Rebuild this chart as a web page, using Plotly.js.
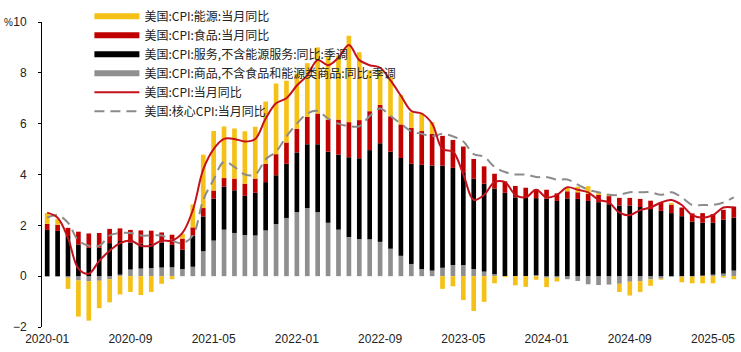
<!DOCTYPE html>
<html>
<head>
<meta charset="utf-8">
<script src="https://cdn.plot.ly/plotly-3.0.1.min.js"></script>
<style>html,body{margin:0;padding:0;background:#fff;}#chart{width:741px;height:352px;}</style>
</head>
<body>
<div id="chart"></div>
<script>
const months = ['2020-01','2020-02','2020-03','2020-04','2020-05','2020-06','2020-07','2020-08','2020-09','2020-10','2020-11','2020-12',
'2021-01','2021-02','2021-03','2021-04','2021-05','2021-06','2021-07','2021-08','2021-09','2021-10','2021-11','2021-12',
'2022-01','2022-02','2022-03','2022-04','2022-05','2022-06','2022-07','2022-08','2022-09','2022-10','2022-11','2022-12',
'2023-01','2023-02','2023-03','2023-04','2023-05','2023-06','2023-07','2023-08','2023-09','2023-10','2023-11','2023-12',
'2024-01','2024-02','2024-03','2024-04','2024-05','2024-06','2024-07','2024-08','2024-09','2024-10','2024-11','2024-12',
'2025-01','2025-02','2025-03','2025-04','2025-05','2025-06','2025-07'];

const tickLabels = ['2020-01','2020-09','2021-05','2022-01','2022-09','2023-05','2024-01','2024-09','2025-05'];

// 能源 contribution
const energy = [0.42,0.22,-0.44,-1.42,-1.55,-1.08,-0.91,-0.72,-0.62,-0.74,-0.62,-0.30,
-0.12,0.18,0.90,2.10,2.34,2.03,1.97,2.06,2.04,2.45,2.78,2.43,
2.17,2.11,2.60,2.46,2.52,3.40,2.67,1.61,1.35,1.55,1.16,0.61,
0.69,0.46,-0.50,-0.40,-0.94,-1.37,-1.01,-0.28,-0.04,-0.36,-0.42,-0.14,
-0.37,-0.15,0.17,0.22,0.30,0.08,0.09,-0.32,-0.54,-0.42,-0.25,-0.04,
0.07,-0.22,-0.26,-0.28,-0.28,-0.06,-0.12];
// 食品
const food = [0.24,0.24,0.32,0.50,0.56,0.58,0.56,0.50,0.50,0.52,0.52,0.40,
0.40,0.44,0.33,0.33,0.32,0.33,0.46,0.48,0.56,0.72,0.83,0.84,
0.93,1.08,1.21,1.26,1.38,1.38,1.50,1.53,1.51,1.39,1.32,1.42,
1.33,1.25,1.17,1.10,1.04,0.78,0.68,0.58,0.45,0.45,0.40,0.36,
0.35,0.30,0.28,0.26,0.28,0.29,0.32,0.30,0.30,0.32,0.33,0.34,
0.33,0.34,0.32,0.38,0.34,0.39,0.44];
// 服务(不含能源服务)
const services = [1.82,1.78,1.58,1.25,1.12,1.12,1.30,1.32,1.06,0.98,0.95,0.98,
0.88,0.76,1.22,1.37,1.65,1.70,1.68,1.54,1.68,1.90,1.92,2.13,
2.35,2.51,2.67,2.80,2.95,3.14,3.18,3.51,3.88,3.82,3.85,3.94,
4.10,4.13,4.02,3.82,3.62,3.55,3.46,3.37,3.28,3.10,3.08,3.03,
3.05,2.96,3.06,3.04,2.96,2.91,2.83,2.78,2.78,2.72,2.64,2.57,
2.48,2.36,2.15,2.08,2.04,2.12,2.08];
// 商品(不含食品和能源)
const goods = [-0.02,-0.02,-0.06,-0.17,-0.20,-0.18,-0.12,0.06,0.26,0.30,0.32,0.34,
0.35,0.28,0.37,0.98,1.40,1.83,1.70,1.62,1.60,1.80,2.05,2.29,
2.52,2.68,2.52,2.10,1.83,1.54,1.46,1.45,1.35,1.08,0.80,0.48,
0.28,0.22,0.33,0.44,0.44,0.28,0.18,0.08,0.00,0.00,0.00,0.04,
-0.06,-0.06,-0.12,-0.19,-0.32,-0.35,-0.33,-0.30,-0.22,-0.20,-0.13,-0.10,
-0.02,-0.02,-0.02,0.02,0.06,0.10,0.22];
// CPI 当月同比
const cpi = [2.5,2.3,1.5,0.3,0.1,0.6,1.0,1.3,1.4,1.2,1.2,1.4,
1.4,1.7,2.6,4.2,5.0,5.4,5.4,5.3,5.4,6.2,6.8,7.0,
7.5,7.9,8.5,8.3,8.6,9.1,8.5,8.3,8.2,7.7,7.1,6.5,
6.4,6.0,5.0,4.9,4.0,3.0,3.2,3.7,3.7,3.2,3.1,3.4,
3.1,3.2,3.5,3.4,3.3,3.0,2.9,2.5,2.4,2.6,2.7,2.9,
3.0,2.8,2.4,2.3,2.4,2.7,2.7];
// 核心CPI 当月同比
const core = [2.3,2.4,2.1,1.4,1.2,1.2,1.6,1.7,1.7,1.6,1.6,1.6,
1.4,1.3,1.6,3.0,3.8,4.5,4.3,4.0,4.0,4.6,4.9,5.5,
6.0,6.4,6.5,6.2,6.0,5.9,5.9,6.3,6.6,6.3,6.0,5.7,
5.6,5.5,5.6,5.5,5.3,4.8,4.7,4.3,4.1,4.0,4.0,3.9,
3.9,3.8,3.8,3.6,3.4,3.3,3.2,3.2,3.3,3.3,3.3,3.2,
3.3,3.1,2.8,2.8,2.8,2.9,3.1];

const names = ['美国:CPI:能源:当月同比','美国:CPI:食品:当月同比','美国:CPI:服务,不含能源服务:同比:季调','美国:CPI:商品,不含食品和能源类商品:同比:季调','美国:CPI:当月同比','美国:核心CPI:当月同比'];
const cYellow = '#F5C116', cRed = '#C00000', cBlack = '#000000', cGray = '#8F8F8F', cLine = '#C4121C', cDash = '#8C8C8C';

function barTrace(y, color){
  return {type:'bar', x:months, y:y, marker:{color:color, line:{width:0}}, showlegend:false, hoverinfo:'skip'};
}
function legendDummy(name, color, rank){
  return {type:'scatter', mode:'lines', x:[null], y:[null], name:name, line:{color:color, width:6}, legendrank:rank, hoverinfo:'skip'};
}

const data = [
  barTrace(goods, cGray),
  barTrace(services, cBlack),
  barTrace(food, cRed),
  barTrace(energy, cYellow),
  {type:'scatter', mode:'lines', x:months, y:core, name:names[5], line:{color:cDash, width:2, dash:'10px,6px', shape:'spline', smoothing:1}, legendrank:6},
  {type:'scatter', mode:'lines', x:months, y:cpi, name:names[4], line:{color:cLine, width:2, shape:'spline', smoothing:1}, legendrank:5},
  legendDummy(names[0], cYellow, 1),
  legendDummy(names[1], cRed, 2),
  legendDummy(names[2], cBlack, 3),
  legendDummy(names[3], cGray, 4)
];

const fontFam = 'Liberation Sans, Arial, Noto Sans CJK SC, sans-serif';
const layout = {
  width:741, height:352,
  margin:{l:42, r:2, t:18, b:25, pad:0},
  paper_bgcolor:'#ffffff', plot_bgcolor:'rgba(0,0,0,0)',
  barmode:'relative', bargap:0.55,
  font:{family:fontFam, size:12, color:'#222'},
  xaxis:{type:'category', range:[-0.5, months.length-0.5], showgrid:false, zeroline:false, showline:false,
         ticks:'', tickmode:'array', tickvals:tickLabels, ticktext:tickLabels, tickangle:0,
         tickfont:{size:12, color:'#222', family:fontFam}, ticklabelstandoff:3, fixedrange:true},
  xaxis2:{overlaying:'x', anchor:'free', position:2/12, side:'bottom', range:[-0.5, months.length-0.5],
          showgrid:false, zeroline:false, showline:true, linecolor:'#000', linewidth:1,
          ticks:'inside', ticklen:4, tickcolor:'#000', tickwidth:1, showticklabels:false,
          tickmode:'linear', tick0:-0.5, dtick:8},
  yaxis:{range:[-2,10], dtick:2, showgrid:false, zeroline:false, showline:true, linecolor:'#000', linewidth:1,
         ticks:'outside', ticklen:3, tickcolor:'#000', tickfont:{size:12, color:'#222', family:fontFam},
         ticklabelstandoff:9},
  legend:{x:0.068, y:1.066, xanchor:'left', yanchor:'top', bgcolor:'rgba(0,0,0,0)', borderwidth:0,
          font:{size:12, color:'#222', family:'Noto Sans CJK SC, Liberation Sans, sans-serif'},
          itemwidth:45, tracegroupgap:0, traceorder:'normal'},
  annotations:[{xref:'paper', yref:'paper', x:-0.057, y:1.0, xanchor:'left', yanchor:'middle', text:'%', showarrow:false,
                font:{size:10, color:'#222', family:fontFam}}]
};

Plotly.newPlot('chart', data, layout, {displayModeBar:false, staticPlot:true});
</script>
</body>
</html>
